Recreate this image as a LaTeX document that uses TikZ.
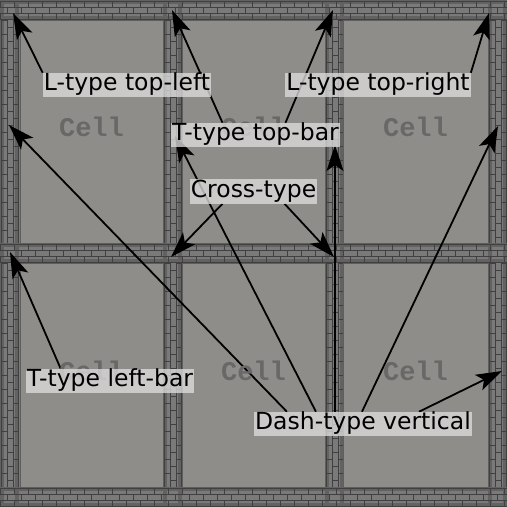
\documentclass[tikz,border=0pt]{standalone}
\usepackage{fontspec}
\setmainfont{DejaVu Sans}
\newfontfamily\cellfont{Liberation Mono}
\usetikzlibrary{arrows.meta,calc}
\pgfdeclarelayer{bg}
\pgfdeclarelayer{mid}
\pgfsetlayers{bg,mid,main}
\definecolor{cellbg}{HTML}{8F8D89}
\definecolor{wallbg}{HTML}{7A7A7A}
\definecolor{walldark}{HTML}{626262}
\definecolor{mortar}{HTML}{404040}
\definecolor{labelbg}{HTML}{DCDCDC}
\definecolor{celltxt}{HTML}{686868}
\definecolor{celledge}{HTML}{5E5E5E}
\begin{document}
\begin{tikzpicture}[x=1pt,y=-1pt,
  lbl/.style={fill=labelbg, fill opacity=0.78, text opacity=1,
    font=\fontsize{23.5}{23.5}\selectfont, inner xsep=1pt, inner ysep=0.8pt,
    text height=17pt, text depth=5.5pt},
  arr/.style={line width=1.8pt, -{Stealth[length=26pt,width=17pt,inset=6pt]}},
  celltext/.style={font=\cellfont\bfseries\fontsize{27}{27}\selectfont, text=celltxt},
  brick/.style={draw=mortar, line width=0.5pt},
  cellarea/.style={fill=cellbg, draw=celledge, line width=0.5pt}
  ]
\useasboundingbox (0,0) rectangle (507,507);
\begin{pgfonlayer}{bg}
\fill[wallbg] (0,0) rectangle (507,507);
% darker bands along wall edges
\foreach \y in {0,243,487} {
  \fill[walldark] (0,\y) rectangle (507,\y+4);
  \fill[walldark] (0,\y+16) rectangle (507,\y+20);
}
\foreach \x in {0,163,325,488} {
  \fill[walldark] (\x,0) rectangle (\x+4,507);
  \fill[walldark] (\x+15,0) rectangle (\x+19,507);
}
% horizontal walls
\foreach \y in {0,243,487} {
  \foreach \r in {0,1,2} {
    \draw[brick] (0,\y+1+\r*6) -- (507,\y+1+\r*6);
    \pgfmathsetmacro\off{mod(\r,2)*7}
    \foreach \x in {0,14,...,504} \draw[brick] (\x+\off,\y+1+\r*6) -- (\x+\off,\y+1+\r*6+6);
  }
  \draw[brick] (0,\y+19) -- (507,\y+19);
}
% vertical walls
\foreach \x in {0,163,325,488} {
  \foreach \ya/\yb in {20/243,263/487} {
    \foreach \c in {0,1,2} {
      \draw[brick] (\x+1+\c*6,\ya) -- (\x+1+\c*6,\yb);
      \pgfmathsetmacro\off{mod(\c,2)*7}
      \foreach \yy in {0,14,...,224} {
        \pgfmathsetmacro\yv{\ya+\yy+\off}
        \ifdim\yv pt<\yb pt
          \draw[brick] (\x+1+\c*6,\yv) -- (\x+1+\c*6+6,\yv);
        \fi
      }
    }
    \draw[brick] (\x+18,\ya) -- (\x+18,\yb);
  }
}
% cells
\foreach \xa/\xb in {20/163,182/325,343/488}
  \foreach \ya/\yb in {20/243,263/487}
    \path[cellarea] (\xa,\ya) rectangle (\xb,\yb);
\end{pgfonlayer}

% cell captions
\node[celltext] (c1) at (91.5,127) {Cell};
\node[celltext] (c2) at (253.5,127) {Cell};
\node[celltext] (c3) at (415.5,127) {Cell};
\node[celltext] (c4) at (91.5,371) {Cell};
\node[celltext] (c5) at (253.5,371) {Cell};
\node[celltext] (c6) at (415.5,371) {Cell};

% labels
\node[lbl] (lt) at (127,85) {L-type top-left};
\node[lbl] (rt) at (378,85) {L-type top-right};
\node[lbl] (tb) at (255.5,135) {T-type top-bar};
\node[lbl] (ct) at (253.5,191.5) {Cross-type};
\node[lbl] (lb) at (110,381) {T-type left-bar};
\node[lbl] (dv) at (363,424) {Dash-type vertical};

% arrow targets
\coordinate (tTL) at (13,13);
\coordinate (tTR) at (489,13);
\coordinate (tB1) at (172,10);
\coordinate (tB2) at (333,10);
\coordinate (tLB) at (10,252);
\coordinate (tC1) at (171,257);
\coordinate (tC2) at (334,257);
\coordinate (tD1) at (9,125);
\coordinate (tD2) at (175,136);
\coordinate (tD3) at (335,145);
\coordinate (tD4) at (498,126);
\coordinate (tD5) at (502,371);

\begin{pgfonlayer}{mid}
\draw[arr] (lt.north west) -- (tTL);
\draw[arr] (rt.north east) -- (tTR);
\draw[arr] ($(tb.north)+(-33,0)$) -- (tB1);
\draw[arr] ($(tb.north)+(30,0)$) -- (tB2);
\draw[arr] ($(lb.north west)+(35,0)$) -- (tLB);
\draw[arr] ($(ct.south)+(-31,0)$) -- (tC1);
\draw[arr] ($(ct.south)+(31,0)$) -- (tC2);
\draw[arr] ($(dv.north west)+(33,0)$) -- (tD1);
\draw[arr] ($(dv.north west)+(62,0)$) -- (tD2);
\draw[arr] ($(dv.north west)+(81,0)$) -- (tD3);
\draw[arr] ($(dv.north west)+(108,0)$) -- (tD4);
\draw[arr] ($(dv.north west)+(165,0)$) -- (tD5);
\end{pgfonlayer}
\end{tikzpicture}
\end{document}
